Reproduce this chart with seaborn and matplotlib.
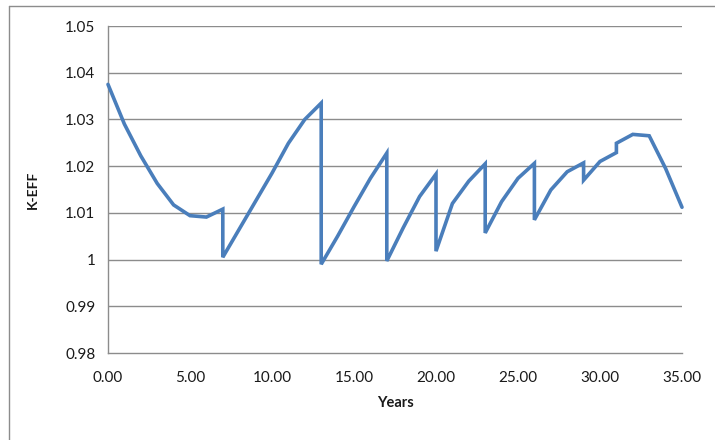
import matplotlib
matplotlib.use("Agg")
import matplotlib.pyplot as plt
from matplotlib.lines import Line2D
from matplotlib.ticker import FixedLocator, FuncFormatter
import seaborn as sns
import pandas as pd

# Core reactivity over the operating history (reload years appear twice: before/after)
years = [0, 1, 2, 3, 4, 5, 6, 7, 7, 8, 9, 10, 11, 12, 13, 13, 14, 15, 16, 17, 17,
         18, 19, 20, 20, 21, 22, 23, 23, 24, 25, 26, 26, 27, 28, 29, 29, 30, 31, 31,
         32, 33, 34, 35]
keff = [1.0375, 1.0290, 1.0222, 1.0163, 1.0117, 1.0094, 1.0091, 1.0108, 1.0005,
        1.0065, 1.0125, 1.0185, 1.0249, 1.0300, 1.0335, 0.9990, 1.0050, 1.0113,
        1.0174, 1.0228, 0.9997, 1.0068, 1.0135, 1.0183, 1.0018, 1.0120, 1.0168,
        1.0205, 1.0057, 1.0124, 1.0174, 1.0206, 1.0085, 1.0149, 1.0188, 1.0207,
        1.0170, 1.0210, 1.0229, 1.0249, 1.0268, 1.0265, 1.0195, 1.0112]

x_ticks = [0, 5, 10, 15, 20, 25, 30, 35]
y_ticks = [0.98, 0.99, 1.00, 1.01, 1.02, 1.03, 1.04, 1.05]
y_tick_labels = ["0.98", "0.99", "1", "1.01", "1.02", "1.03", "1.04", "1.05"]

df = pd.DataFrame({"Years": years, "K-EFF": keff})

sns.set_style("white")
plt.rcParams["font.family"] = ["Lato", "DejaVu Sans"]

fig = plt.figure(figsize=(7.15, 4.4), dpi=100)
ax = fig.add_axes([108 / 715, 1 - 353 / 440, (682 - 108) / 715, (353 - 26) / 440])

grid_color = "#8c8c8c"
for yv in y_ticks[1:]:
    ax.axhline(yv, color=grid_color, lw=1.0, zorder=0)

sns.lineplot(data=df, x="Years", y="K-EFF", sort=False, estimator=None,
             errorbar=None, color="#4A7EBB", lw=2.6, ax=ax, zorder=3,
             solid_joinstyle="miter", clip_on=False)

ax.set_xlim(0, 35)
ax.set_ylim(0.98, 1.05)
ax.xaxis.set_major_locator(FixedLocator(x_ticks))
ax.xaxis.set_major_formatter(FuncFormatter(lambda v, p: f"{v:.2f}"))
ax.yaxis.set_major_locator(FixedLocator(y_ticks))
ax.set_yticklabels(y_tick_labels)

for side in ("top", "right"):
    ax.spines[side].set_visible(False)
for side in ("left", "bottom"):
    ax.spines[side].set_color(grid_color)
    ax.spines[side].set_linewidth(1.0)

ax.tick_params(axis="both", which="major", direction="out", length=5, width=1.0,
               color=grid_color, labelsize=11, labelcolor="#1a1a1a", pad=4)
ax.tick_params(axis="x", pad=8)

ax.set_xlabel("Years", fontsize=10.5, fontweight="bold", color="#1a1a1a", labelpad=8)
ax.set_ylabel("K-EFF", fontsize=10, fontweight="bold", color="#1a1a1a")
ax.yaxis.set_label_coords(-0.12, 0.5)

# Chart-area frame (top and left edges)
fig.add_artist(Line2D([9 / 715, 1.0], [1 - 6 / 440, 1 - 6 / 440],
                      transform=fig.transFigure, color="#8c8c8c", lw=1.0))
fig.add_artist(Line2D([9 / 715, 9 / 715], [0.0, 1 - 6 / 440],
                      transform=fig.transFigure, color="#8c8c8c", lw=1.0))

fig.savefig("out.png", dpi=100, facecolor="white")
